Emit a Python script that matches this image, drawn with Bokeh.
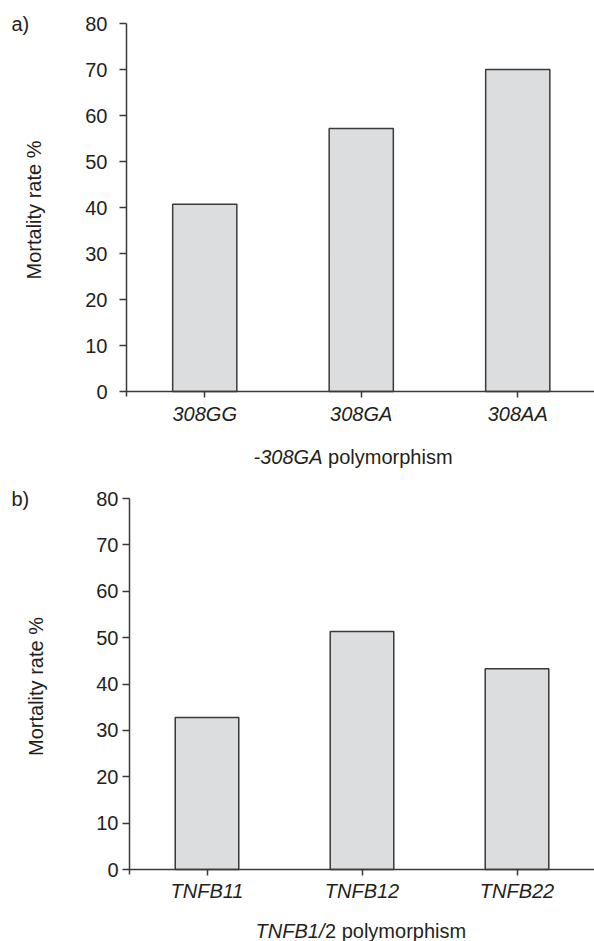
from bokeh.plotting import figure
from bokeh.layouts import column
from bokeh.models import Label, Range1d, FixedTicker, LinearAxis
from bokeh.embed import file_html
from bokeh.resources import INLINE

# ---- data ----
top_categories = ["308GG", "308GA", "308AA"]
top_values = [40.7, 57.2, 70.0]
bottom_categories = ["TNFB11", "TNFB12", "TNFB22"]
bottom_values = [32.8, 51.3, 43.3]
y_ticks = [0, 10, 20, 30, 40, 50, 60, 70, 80]
y_label = "Mortality rate %"
top_title = ("-308GA", "polymorphism")
bottom_title = ("TNFB1/", "2 polymorphism")
panel_letters = ["a)", "b)"]

FONT = "Liberation Sans"
TXT = "#231f20"
AXC = "#3a3a3a"
FS = "20px"
W = 594


def make_panel(cats, vals, height, frame_top_px, axis_x_px, slot_px, ppu,
               tick_standoff, ylab_standoff, xlab_standoff, letter,
               title, title_split_px, title_gap_px, title_y_px):
    # screen geometry -> data ranges so the whole canvas is the frame
    y_max = 80 + frame_top_px / ppu
    y_min = y_max - height / ppu
    x_min = -axis_x_px / slot_px
    x_max = (W - axis_x_px) / slot_px
    zero_px = frame_top_px + 80 * ppu

    p = figure(width=W, height=height,
               x_range=Range1d(x_min, x_max), y_range=Range1d(y_min, y_max),
               x_axis_location=None, y_axis_location=None,
               output_backend="svg", toolbar_location=None,
               min_border=0, min_border_left=0, min_border_right=0,
               min_border_top=0, min_border_bottom=0,
               outline_line_color=None, background_fill_color="white")
    p.title.visible = False
    p.grid.visible = False

    xs = [i + 0.5 for i in range(len(cats))]
    p.vbar(x=xs, top=vals, width=0.41, fill_color="#dcdddf",
           line_color=AXC, line_width=1.5)

    yaxis = LinearAxis(fixed_location=0, bounds=(-5 / ppu, 80),
                       ticker=FixedTicker(ticks=y_ticks))
    xaxis = LinearAxis(fixed_location=0, bounds=(0, x_max),
                       ticker=FixedTicker(ticks=xs),
                       major_label_overrides={x: c for x, c in zip(xs, cats)})
    for ax in (xaxis, yaxis):
        ax.axis_line_color = AXC
        ax.axis_line_width = 1.5
        ax.major_tick_line_color = AXC
        ax.major_tick_line_width = 1.5
        ax.major_tick_in = 0
        ax.minor_tick_line_color = None
        ax.major_label_text_font = FONT
        ax.major_label_text_font_size = FS
        ax.major_label_text_color = TXT
    yaxis.major_tick_out = 7
    yaxis.major_label_standoff = tick_standoff
    yaxis.axis_label = y_label
    yaxis.axis_label_text_font = FONT
    yaxis.axis_label_text_font_size = FS
    yaxis.axis_label_text_font_style = "normal"
    yaxis.axis_label_text_color = TXT
    yaxis.axis_label_standoff = ylab_standoff
    xaxis.major_tick_out = 6
    xaxis.major_label_standoff = xlab_standoff
    xaxis.major_label_text_font_style = "italic"
    p.add_layout(yaxis, "left")
    p.add_layout(xaxis, "below")

    def dx(px):
        return (px - axis_x_px) / slot_px

    def dy(px):
        return (zero_px - px) / ppu

    # x-axis title with mixed styles
    p.add_layout(Label(x=dx(title_split_px), y=dy(title_y_px), text=title[0],
                       text_align="right", text_baseline="middle",
                       text_font=FONT, text_font_size=FS,
                       text_font_style="italic", text_color=TXT))
    p.add_layout(Label(x=dx(title_split_px + title_gap_px), y=dy(title_y_px),
                       text=title[1], text_align="left",
                       text_baseline="middle", text_font=FONT,
                       text_font_size=FS, text_font_style="normal",
                       text_color=TXT))
    # panel letter, level with the top tick
    p.add_layout(Label(x=dx(11), y=80, text=letter, text_align="left",
                       text_baseline="middle", text_font=FONT,
                       text_font_size=FS, text_color=TXT))
    return p


p1 = make_panel(top_categories, top_values, 475, 23, 126, 156.5, 4.6,
                12, 37, 5, panel_letters[0], top_title, 322, 5.6, 456)
p2 = make_panel(bottom_categories, bottom_values, 466, 498 - 475, 129, 155,
                4.6375, 4, 46, 4, panel_letters[1], bottom_title, 324, 0.5,
                930 - 475)

layout = column(p1, p2, spacing=0)
open("out.html", "w").write(file_html(layout, INLINE))
